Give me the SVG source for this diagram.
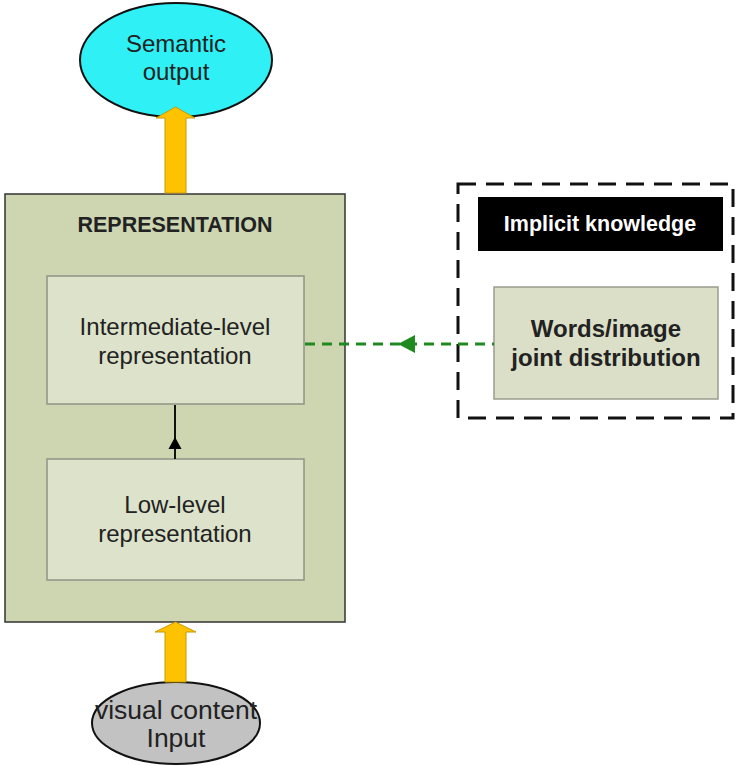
<svg xmlns="http://www.w3.org/2000/svg" width="736" height="766" viewBox="0 0 736 766">
  <style>
    .t { font-family: "Liberation Sans", Arial, sans-serif; text-anchor: middle; fill: #222; }
    .reg { font-size: 24px; }
    .big { font-size: 24px; }
    .bold { font-weight: bold; }
    .inner { fill: #dde2cb; stroke: #8f9484; stroke-width: 1.5; }
    .fat { fill: #fec200; stroke: #c89a00; stroke-width: 1; }
  </style>

  <g id="semantic-output">
    <ellipse cx="176" cy="60" rx="96" ry="57" fill="#2ef0f5" stroke="#111" stroke-width="2"/>
    <text class="t big" x="176" y="52">Semantic</text>
    <text class="t big" x="176" y="80">output</text>
  </g>

  <g id="representation">
    <rect x="5" y="194" width="340" height="428" fill="#cdd6b1" stroke="#333" stroke-width="1.5"/>
    <text class="t bold" x="175" y="232" font-size="21.5">REPRESENTATION</text>
  </g>

  <g id="intermediate-level">
    <rect class="inner" x="47" y="276" width="257" height="128"/>
    <text class="t reg" x="175" y="335">Intermediate-level</text>
    <text class="t reg" x="175" y="364">representation</text>
  </g>

  <g id="low-level">
    <rect class="inner" x="47" y="459" width="257" height="121"/>
    <text class="t reg" x="175" y="513">Low-level</text>
    <text class="t reg" x="175" y="542">representation</text>
  </g>

  <g id="visual-input">
    <ellipse cx="176" cy="723" rx="84" ry="41" fill="#c2c2c2" stroke="#111" stroke-width="2"/>
    <text class="t" x="176" y="719" font-size="26.5">visual content</text>
    <text class="t" x="176" y="747" font-size="26.5">Input</text>
  </g>

  <g id="implicit-knowledge">
    <rect x="458" y="184" width="275" height="234" fill="none" stroke="#111" stroke-width="3" stroke-dasharray="18,10"/>
    <rect x="478" y="197" width="245" height="54" fill="#000"/>
    <text class="t bold" x="600" y="231" font-size="21.5" style="fill:#fff">Implicit knowledge</text>
  </g>

  <g id="joint-distribution">
    <rect x="494" y="287" width="224" height="112" fill="#dcdfc7" stroke="#9a9d8e" stroke-width="1.5"/>
    <text class="t big bold" x="606" y="337">Words/image</text>
    <text class="t big bold" x="606" y="366">joint distribution</text>
  </g>

  <!-- connectors, drawn over the boxes -->
  <g id="connectors">
    <!-- input into representation -->
    <polygon class="fat" points="165,682 165,632 155,632 175.5,622 196,632 186,632 186,682"/>
    <!-- representation to output -->
    <polygon class="fat" points="165,193 165,118 156,118 175.5,107 195,118 186,118 186,193"/>
    <!-- low level to intermediate -->
    <line x1="175" y1="459" x2="175" y2="405" stroke="#111" stroke-width="2"/>
    <polygon points="175,437 168.5,449 181.5,449" fill="#000"/>
    <!-- knowledge prior feeding intermediate level -->
    <line x1="305" y1="344" x2="494" y2="344" stroke="#1f8a1f" stroke-width="3" stroke-dasharray="10,7"/>
    <polygon points="398,344 415,335 415,353" fill="#1f8a1f"/>
  </g>
</svg>
